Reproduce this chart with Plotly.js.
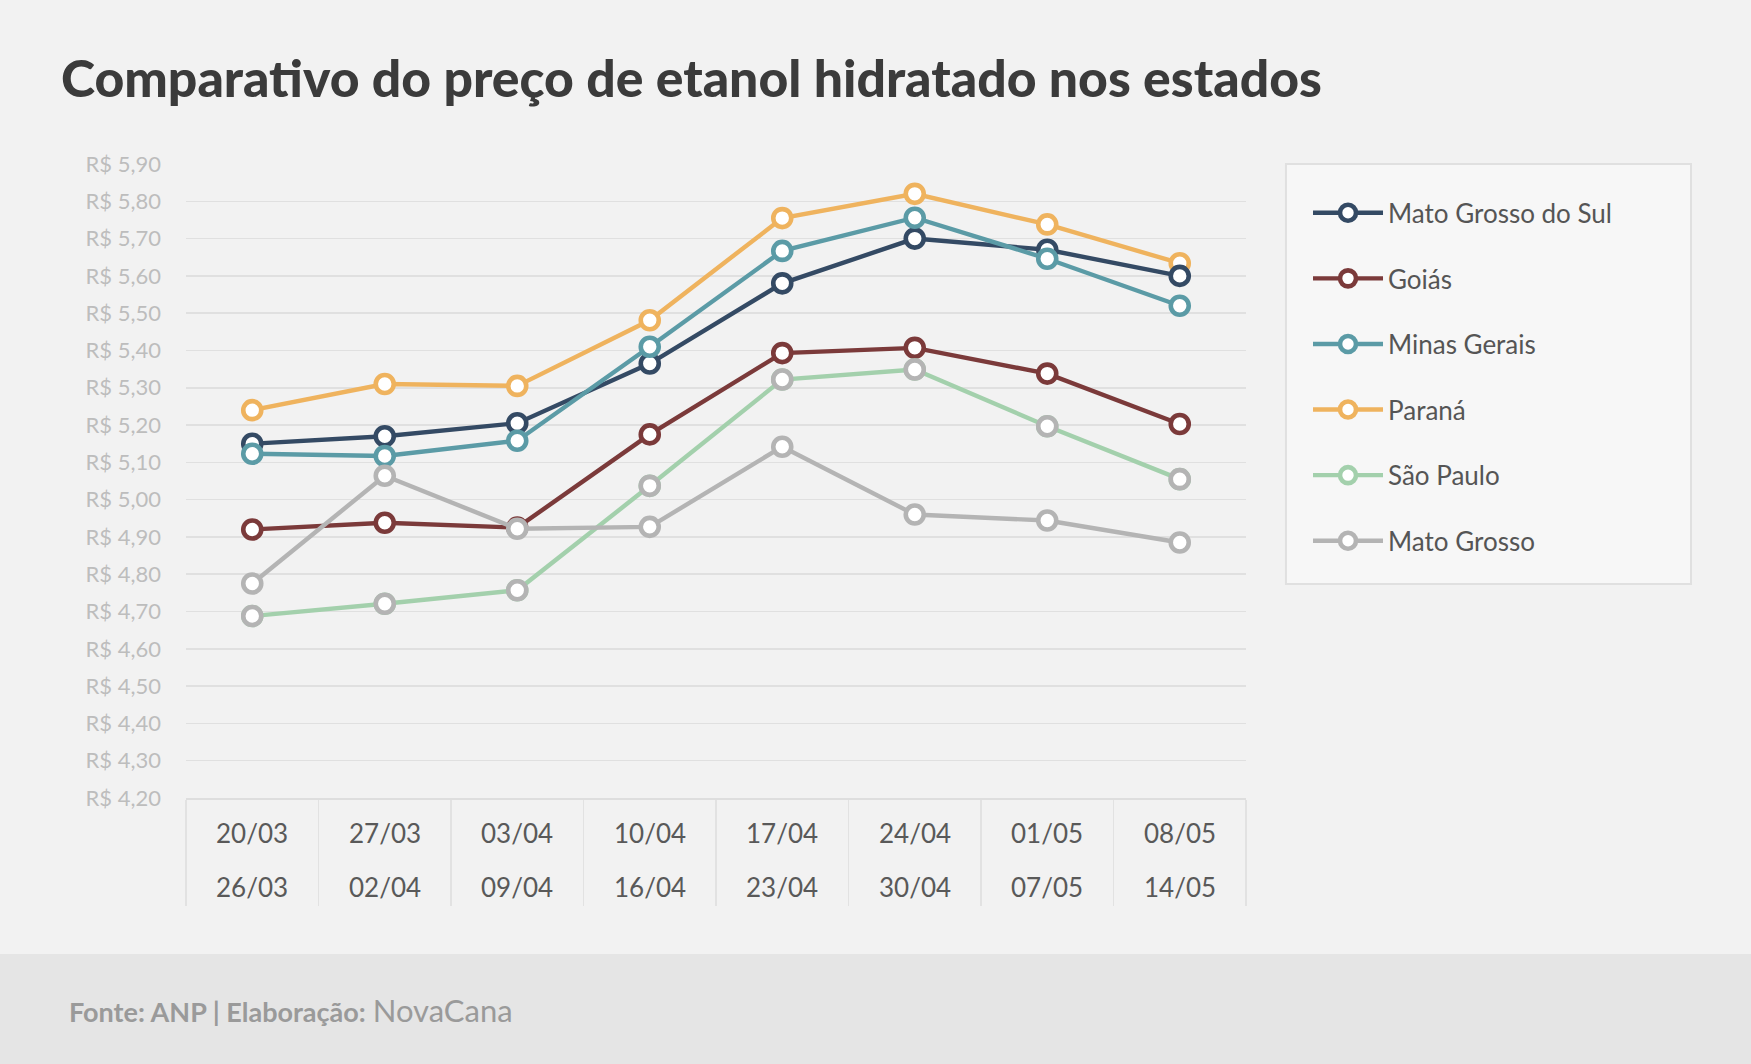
<!DOCTYPE html>
<html>
<head>
<meta charset="utf-8">
<script src="https://cdn.plot.ly/plotly-3.0.1.min.js"></script>
<style>
  html, body { margin: 0; padding: 0; background: #f2f2f2; }
  #chart { width: 1751px; height: 1064px; }
</style>
</head>
<body>
<div id="chart"></div>
<script>
// Semana de coleta (início e fim)
const weekStart = ['20/03', '27/03', '03/04', '10/04', '17/04', '24/04', '01/05', '08/05'];
const weekEnd   = ['26/03', '02/04', '09/04', '16/04', '23/04', '30/04', '07/05', '14/05'];

// Preço médio do etanol hidratado (R$/litro)
const matoGrossoDoSul = [5.150, 5.170, 5.205, 5.365, 5.580, 5.700, 5.670, 5.600];
const goias           = [4.920, 4.938, 4.925, 5.175, 5.393, 5.407, 5.338, 5.203];
const minasGerais     = [5.123, 5.117, 5.158, 5.410, 5.667, 5.756, 5.646, 5.520];
const parana          = [5.240, 5.310, 5.305, 5.481, 5.755, 5.820, 5.738, 5.634];
const saoPaulo        = [4.688, 4.721, 4.757, 5.037, 5.322, 5.349, 5.197, 5.055];
const matoGrosso      = [4.775, 5.064, 4.922, 4.927, 5.142, 4.960, 4.944, 4.885];

const FONT = 'Lato, "Open Sans", sans-serif';

function serie(name, y, color, rank, extra) {
  return Object.assign({
    type: 'scatter',
    mode: 'lines+markers',
    name: name,
    x: weekStart,
    y: y,
    legendrank: rank,
    legendgroup: name,
    line: { color: color, width: 4.4 },
    marker: { symbol: 'circle', size: 18, color: '#ffffff', line: { color: color, width: 4.6 } },
    cliponaxis: false,
    hoverinfo: 'skip'
  }, extra || {});
}

const traces = [
  serie('Paraná', parana, '#efb35e', 4),
  serie('Goiás', goias, '#7b3a3a', 2),
  serie('Mato Grosso do Sul', matoGrossoDoSul, '#344a64', 1),
  serie('Minas Gerais', minasGerais, '#5b9ba6', 3),
  serie('São Paulo', saoPaulo, '#a3d0ac', 5),
  // São Paulo: contorno cinza dos marcadores no gráfico
  {
    type: 'scatter', mode: 'markers', x: weekStart, y: saoPaulo, showlegend: false,
    marker: { symbol: 'circle', size: 18, color: '#ffffff', line: { color: '#b4b4b4', width: 4.6 } },
    cliponaxis: false, hoverinfo: 'skip'
  },
  serie('Mato Grosso', matoGrosso, '#b4b4b4', 6)
];

// Rótulos das semanas em duas linhas abaixo do eixo
const annotations = [];
weekStart.forEach((w, i) => {
  annotations.push({ x: w, xref: 'x', y: 0, yref: 'paper', yanchor: 'middle', yshift: -35,
    text: w, showarrow: false, font: { family: FONT, size: 26, color: '#595959' } });
  annotations.push({ x: w, xref: 'x', y: 0, yref: 'paper', yanchor: 'middle', yshift: -89,
    text: weekEnd[i], showarrow: false, font: { family: FONT, size: 26, color: '#595959' } });
});
annotations.push({
  xref: 'paper', yref: 'paper', x: -0.1127, y: -0.335, xanchor: 'left', yanchor: 'middle',
  showarrow: false,
  text: '<b>Fonte: ANP | Elaboração:</b> <span style="font-size:31px">NovaCana</span>',
  font: { family: FONT, size: 27, color: '#9a9a9a' }
});

const layout = {
  width: 1751,
  height: 1064,
  paper_bgcolor: '#f2f2f2',
  plot_bgcolor: 'rgba(0,0,0,0)',
  separators: ',.',
  margin: { l: 186, r: 505, t: 164, b: 266 },
  font: { family: FONT },
  title: {
    text: 'Comparativo do preço de etanol hidratado nos estados',
    xref: 'container', yref: 'container',
    x: 0.0348, xanchor: 'left', y: 0.9258, yanchor: 'middle',
    font: { family: FONT, size: 51.7, weight: 900, color: '#3b3b3b' }
  },
  xaxis: {
    type: 'category',
    range: [-0.5, 7.5],
    showticklabels: false,
    tickson: 'boundaries',
    ticks: 'outside',
    ticklen: 106,
    tickwidth: 1.5,
    tickcolor: '#e2e2e2',
    showgrid: false,
    showline: true,
    linecolor: '#dedede',
    linewidth: 1.5,
    zeroline: false,
    fixedrange: true
  },
  yaxis: {
    range: [4.2, 5.9],
    dtick: 0.1,
    tick0: 4.2,
    tickformat: '.2f',
    tickprefix: 'R$ ',
    ticklabelstandoff: 24,
    tickfont: { family: FONT, size: 22, color: '#bdbdbd' },
    showgrid: true,
    gridcolor: '#e0e0e0',
    gridwidth: 1.5,
    zeroline: false,
    showline: false,
    fixedrange: true
  },
  legend: {
    x: 1.0585, xanchor: 'left',
    y: 0.96, yanchor: 'top',
    bgcolor: 'rgba(0,0,0,0)',
    borderwidth: 0,
    tracegroupgap: 28.8,
    itemwidth: 70,
    font: { family: FONT, size: 26, color: '#555555' }
  },
  shapes: [
    // faixa do rodapé
    { type: 'rect', xref: 'paper', yref: 'paper', x0: -0.2, x1: 1.5, y0: -0.45, y1: -0.2461,
      fillcolor: '#e5e5e5', line: { width: 0 }, layer: 'below' },
    // moldura da legenda
    { type: 'rect', xref: 'paper', yref: 'paper', x0: 1.0377, x1: 1.4198, y0: 0.3375, y1: 1.0,
      fillcolor: '#f7f7f7', line: { color: '#e0e0e0', width: 2 }, layer: 'below' }
  ],
  annotations: annotations,
  showlegend: true
};

Plotly.newPlot('chart', traces, layout, { displayModeBar: false, staticPlot: true });
</script>
</body>
</html>
